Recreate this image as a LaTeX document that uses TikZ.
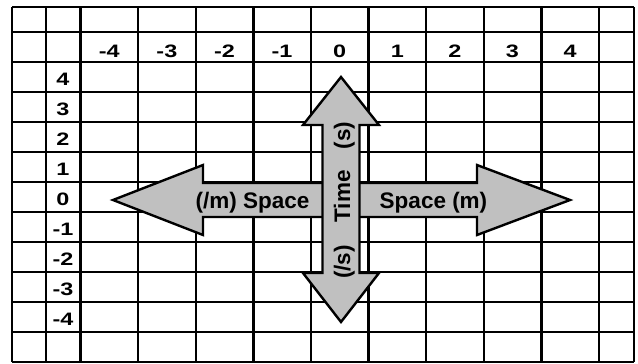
\documentclass[tikz,border=0pt]{standalone}
\usepackage{fontspec}
\setmainfont{Liberation Sans}
\usetikzlibrary{positioning}
\definecolor{arrowgray}{RGB}{192,192,192}

\begin{document}
\begin{tikzpicture}[x=1pt, y=-1pt, line width=2.4pt,
    axislabel/.style={font=\fontsize{18}{20}\selectfont\bfseries, inner sep=0pt, anchor=base, xscale=1.3},
    arrowlabel/.style={font=\fontsize{22.5}{26}\selectfont\bfseries, inner sep=0pt, anchor=base}]
    \useasboundingbox (0,0) rectangle (638,364);

    % Grid rows
    \draw (12,7) -- (634,7);
    \foreach \y in {32,62,...,362} {
        \draw (12,\y) -- (634,\y);
    }

    % Grid columns
    \foreach \x in {12, 46, 634} {
        \draw (\x,7) -- (\x,362);
    }
    \foreach \i in {0,...,9} {
        \pgfmathsetmacro{\x}{80.5 + 57.6*\i}
        \draw (\x,7) -- (\x,362);
    }

    % Column labels
    \foreach \n [count=\i from 0] in {-4,-3,-2,-1,0,1,2,3,4} {
        \node[axislabel] (col\i) at ({109.3 + 57.6*\i}, 57) {\n};
    }

    % Row labels
    \foreach \n [count=\i from 0] in {4,3,2,1,0,-1,-2,-3,-4} {
        \node[axislabel] (row\i) at (63, {85 + 30*\i}) {\n};
    }

    % Space arrow
    \draw[fill=arrowgray] (113,200) -- (203,165) -- (203,183) -- (477,183) -- (477,165)
        -- (570,200) -- (477,235) -- (477,217) -- (203,217) -- (203,235) -- cycle;
    \node[arrowlabel] (backspace) at (252.5,208) {(/m) Space};
    \node[arrowlabel] (fwdspace) at (433.5,208) {Space (m)};

    % Time arrow
    \draw[fill=arrowgray] (341,77) -- (379,125) -- (359.5,125) -- (359.5,273) -- (379,273)
        -- (341,322) -- (303,273) -- (322.5,273) -- (322.5,125) -- (303,125) -- cycle;
    \node[arrowlabel, rotate=90] (time) at (350,196.5) {Time};
    \node[arrowlabel, rotate=90] (fwdtime) at (350,135.5) {(s)};
    \node[arrowlabel, rotate=90] (backtime) at (350,262) {(/s)};
\end{tikzpicture}
\end{document}
